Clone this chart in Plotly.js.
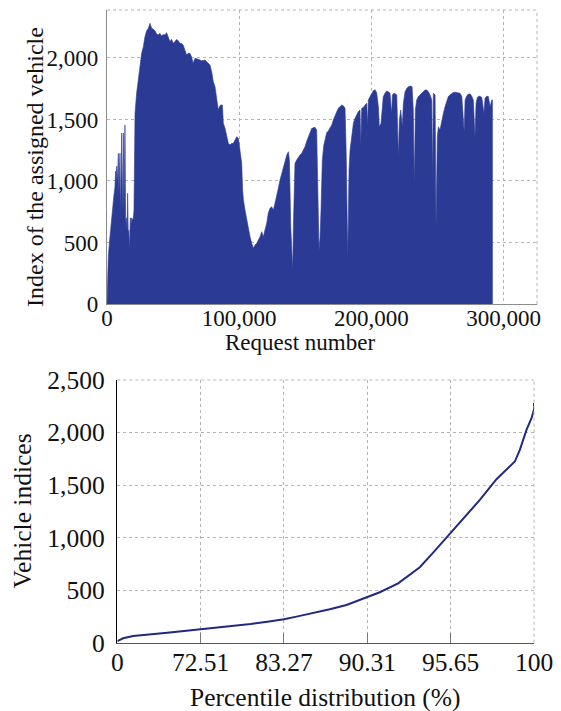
<!DOCTYPE html>
<html>
<head>
<meta charset="utf-8">
<script src="https://cdn.plot.ly/plotly-3.0.1.min.js"></script>
<style>html,body{margin:0;padding:0;background:#fff;}#chart{width:561px;height:711px;}</style>
</head>
<body>
<div id="chart"></div>
<script>
// ---- Top panel: index of the assigned vehicle per request ----
const requestNumber = [0,1000,2000,3500,4500,5200,6000,6500,7000,7300,7800,8600,9000,9800,10300,10600,11100,11500,12000,12400,12800,13200,13600,14100,14600,15200,15600,16100,16500,16900,17300,17700,18200,18700,19300,19900,20400,20800,21200,22400,23700,25000,26200,27500,28700,30000,31300,32500,33200,33800,35000,36300,37500,38800,40000,41300,42500,43800,45100,46400,47600,48900,50100,51400,52600,53900,55100,56400,57600,58900,60200,61400,62700,63900,65200,66500,67700,69000,70400,71500,72800,74100,75400,76700,77900,79200,80400,81700,83000,84200,85000,86000,87300,88000,89300,90500,91800,93100,94300,95600,96800,98100,99400,100600,101900,102600,103200,104400,105700,106900,108200,109500,110700,112000,113300,114500,115800,117000,118300,119500,120800,122000,123300,124600,125800,127100,128400,129600,130900,132200,133400,134700,136000,137200,138000,139000,140000,140500,141000,142200,143500,144800,146000,147300,148500,149800,151000,152300,153600,154900,156100,157400,158600,159500,159900,160400,160600,161200,161900,162900,164000,164900,166200,167400,168700,170000,171200,172500,173800,175000,176300,177600,178800,180100,181000,181400,182100,182600,183100,183900,185100,186400,187600,188900,190100,191400,192000,192700,193900,195200,196500,197100,197700,199000,200300,201500,202800,204000,205300,206000,207300,208300,209000,210300,211600,212800,214100,214900,215400,215900,217100,218000,219200,220400,221200,222200,223400,224200,225500,226800,228000,229300,230800,231700,232500,233300,234300,235500,236800,238100,239300,240600,241900,243100,244400,245700,246200,246900,248200,248900,249900,250700,251900,253200,254500,255700,257000,258200,259500,260800,262000,263300,264600,265800,267100,268400,269600,270200,270900,272100,273400,274700,275900,277100,278400,279200,280200,281700,283500,285200,286000,287300,288500,289800,291100,291800];
const assignedVehicle = [0,385,520,710,800,880,950,1080,980,1120,1000,1225,900,1225,720,1100,1390,760,1300,1390,740,1200,1455,660,700,600,900,550,600,440,620,700,650,700,680,700,760,1000,1550,1713,1821,1916,2038,2092,2173,2222,2241,2282,2250,2241,2233,2222,2195,2187,2200,2179,2190,2187,2206,2160,2133,2152,2119,2133,2150,2141,2119,2119,2106,2065,2024,2038,2038,2011,1957,1997,1995,1990,1984,1978,1980,1984,1970,1957,1943,1889,1808,1767,1659,1577,1604,1618,1618,1469,1428,1360,1306,1293,1306,1306,1333,1360,1347,1252,1144,927,846,764,683,602,547,493,453,480,493,520,547,588,547,602,656,737,778,791,764,819,873,941,1008,1063,1116,1171,1211,1238,1171,629,331,276,629,1144,1171,1198,1211,1225,1250,1279,1320,1360,1401,1428,1432,1436,1414,900,493,439,466,547,764,1171,1290,1333,1393,1406,1428,1455,1496,1537,1563,1591,1604,1618,1611,1591,1200,710,385,700,1089,1252,1360,1469,1509,1537,1563,1577,1300,1591,1598,1618,1631,1450,1659,1686,1713,1734,1742,1720,1604,1441,1469,1604,1686,1713,1732,1726,1713,1604,1550,1700,1713,1710,1700,1200,1496,1577,1441,1631,1726,1753,1767,1772,1767,1577,981,1577,1659,1686,1700,1713,1726,1740,1740,1726,1700,1659,1035,1713,1700,629,1360,1441,1414,1496,1550,1604,1659,1686,1700,1713,1720,1722,1720,1718,1713,1686,1523,1400,1659,1690,1707,1707,1690,1659,1360,1631,1680,1690,1680,1550,1672,1690,1686,1604,1659,1659];

// ---- Bottom panel: percentile distribution of vehicle indices ----
const percentilePos = [0,0.07,0.19,0.4,0.6,0.8,1,1.2,1.4,1.6,1.8,2,2.15,2.35,2.55,2.75,3,3.15,3.37,3.63,3.79,4,4.19,4.35,4.55,4.77,4.83,4.91,4.97,5,5];
const vehicleIdx = [15,42,64,83,95,111,127,143,159,178,200,223,248,280,318,359,432,480,565,718,857,1042,1216,1359,1556,1724,1835,2026,2137,2216,2280];
const percentileTickVals = [0,1,2,3,4,5];
const percentileTickText = ['0','72.51','83.27','90.31','95.65','100'];

const serif = 'Liberation Serif';
const gridCol = '#b4b4b4';

const traces = [
  {x: requestNumber, y: assignedVehicle, type: 'scatter', mode: 'lines', fill: 'tozeroy',
   fillcolor: '#2b3a94', line: {color: '#2b3a94', width: 0.6}, xaxis: 'x', yaxis: 'y', hoverinfo: 'x+y'},
  {x: percentilePos, y: vehicleIdx, type: 'scatter', mode: 'lines',
   line: {color: '#1f2a80', width: 2}, xaxis: 'x2', yaxis: 'y2'}
];

function dotEdge(xr, yr, x0, y0, x1, y1) {
  return {type: 'line', xref: xr, yref: yr, x0: x0, y0: y0, x1: x1, y1: y1,
          line: {color: gridCol, width: 1, dash: 'dot'}, layer: 'above'};
}

const layout = {
  width: 561, height: 711,
  margin: {l: 0, r: 0, t: 0, b: 0},
  paper_bgcolor: '#fff', plot_bgcolor: '#fff',
  showlegend: false,
  font: {family: serif, color: '#111', size: 23},
  xaxis: {domain: [107/561, 537/561], range: [0, 325300], anchor: 'y',
          tickvals: [0, 100000, 200000, 300000], tickformat: ',d',
          showgrid: true, gridcolor: gridCol, griddash: 'dot', gridwidth: 1,
          zeroline: false, showline: true, linecolor: '#8c8c8c', linewidth: 1.2,
          ticks: '', ticklabelstandoff: -7, tickfont: {family: serif, size: 23, color: '#111'},
          automargin: false, fixedrange: true},
  yaxis: {domain: [1 - 304/711, 1 - 10/711], range: [0, 2390], anchor: 'x',
          tickvals: [0, 500, 1000, 1500, 2000], tickformat: ',d',
          showgrid: true, gridcolor: gridCol, griddash: 'dot', gridwidth: 1,
          zeroline: false, showline: true, linecolor: '#8c8c8c', linewidth: 1.2,
          ticks: '', ticklabelstandoff: 3, tickfont: {family: serif, size: 23, color: '#111'},
          automargin: false, fixedrange: true},
  xaxis2: {domain: [117.3/561, 534/561], range: [0, 5], anchor: 'y2',
           tickvals: percentileTickVals, ticktext: percentileTickText,
           showgrid: true, gridcolor: gridCol, griddash: 'dot', gridwidth: 1,
           zeroline: false, showline: true, linecolor: '#555', linewidth: 1.5,
           ticks: 'inside', ticklen: 10, tickcolor: '#777', tickwidth: 1,
           ticklabelstandoff: -4, tickfont: {family: serif, size: 25.5, color: '#111'},
           automargin: false, fixedrange: true},
  yaxis2: {domain: [1 - 642.7/711, 1 - 380/711], range: [0, 2500], anchor: 'x2',
           tickvals: [0, 500, 1000, 1500, 2000, 2500], tickformat: ',d',
           showgrid: true, gridcolor: gridCol, griddash: 'dot', gridwidth: 1,
           zeroline: false, showline: true, linecolor: '#000', linewidth: 1.5,
           ticks: '', ticklabelstandoff: 6, tickfont: {family: serif, size: 25.5, color: '#111'},
           automargin: false, fixedrange: true},
  shapes: [
    dotEdge('x domain', 'y domain', 0, 1, 1, 1),
    dotEdge('x domain', 'y domain', 1, 0, 1, 1),
    dotEdge('x2 domain', 'y2 domain', 0, 1, 1, 1),
    dotEdge('x2 domain', 'y2 domain', 1, 0, 1, 1)
  ],
  annotations: [
    {text: 'Index of the assigned vehicle', xref: 'paper', yref: 'paper', x: 35/561, y: 1 - 167/711,
     xanchor: 'center', yanchor: 'middle', textangle: -90, showarrow: false,
     font: {family: serif, size: 24, color: '#111'}},
    {text: 'Request number', xref: 'paper', yref: 'paper', x: 300/561, y: 1 - 343/711,
     xanchor: 'center', yanchor: 'middle', showarrow: false,
     font: {family: serif, size: 23, color: '#111'}},
    {text: 'Vehicle indices', xref: 'paper', yref: 'paper', x: 22.5/561, y: 1 - 511/711,
     xanchor: 'center', yanchor: 'middle', textangle: -90, showarrow: false,
     font: {family: serif, size: 25.5, color: '#111'}},
    {text: 'Percentile distribution (%)', xref: 'paper', yref: 'paper', x: 325.5/561, y: 1 - 697/711,
     xanchor: 'center', yanchor: 'middle', showarrow: false,
     font: {family: serif, size: 25.5, color: '#111'}}
  ]
};

Plotly.newPlot('chart', traces, layout, {displayModeBar: false, staticPlot: true});
</script>
</body>
</html>
